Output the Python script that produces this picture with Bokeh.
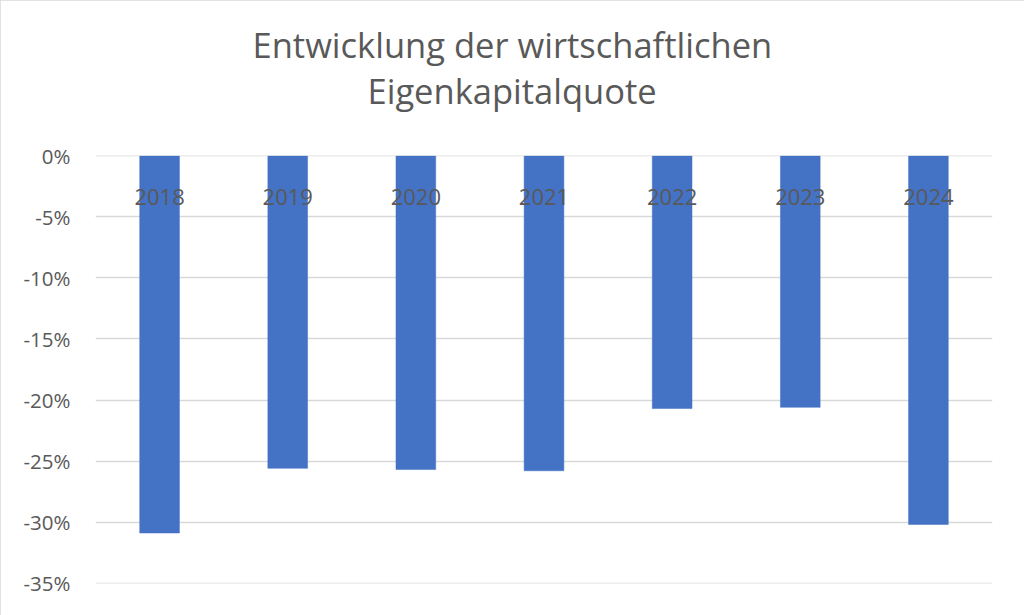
from bokeh.plotting import figure
from bokeh.models import ColumnDataSource, Range1d, NumeralTickFormatter, Title, FixedTicker
from bokeh.core.properties import value
from bokeh.embed import file_html
from bokeh.resources import INLINE

years = ["2018", "2019", "2020", "2021", "2022", "2023", "2024"]
quote = [-0.309, -0.256, -0.257, -0.258, -0.207, -0.206, -0.302]
y_ticks = [0.0, -0.05, -0.10, -0.15, -0.20, -0.25, -0.30, -0.35]
title_lines = ["Entwicklung der wirtschaftlichen", "Eigenkapitalquote"]

FONT = "Open Sans"
TXT = "#595959"

src = ColumnDataSource(dict(year=years, quote=quote, zero=[0.0] * len(years)))

p = figure(x_range=years, y_range=Range1d(-0.3504, 0.0004), width=1024, height=615,
           output_backend="svg", toolbar_location=None,
           min_border_left=95, min_border_right=32, min_border_top=155, min_border_bottom=32)
p.x_range.range_padding = 0
p.outline_line_color = None
p.background_fill_color = "white"
p.border_fill_color = "white"
p.styles = {"outline": "2px solid #d9d9d9", "outline-offset": "-2px"}

p.vbar(x="year", top="zero", bottom="quote", width=0.31, source=src,
       fill_color="#4472C4", line_color="#4472C4", line_width=0.5)

p.text(x="year", y="zero", text="year", source=src, y_offset=41,
       text_align="center", text_baseline="alphabetic",
       text_font=value(FONT), text_font_size="22px", text_color=TXT)

p.xaxis.visible = False
p.xgrid.grid_line_color = None
p.ygrid.grid_line_color = "#d9d9d9"
p.ygrid.grid_line_width = 1.5

ya = p.yaxis[0]
ya.ticker = FixedTicker(ticks=y_ticks)
ya.formatter = NumeralTickFormatter(format="0%")
ya.axis_line_color = None
ya.major_tick_line_color = None
ya.minor_tick_line_color = None
ya.major_tick_out = 0
ya.major_tick_in = 0
ya.major_label_standoff = 25
ya.major_label_text_font = FONT
ya.major_label_text_font_size = "20.5px"
ya.major_label_text_color = TXT

# second line first (closest to the frame), then the first line above it
p.add_layout(Title(text=title_lines[1], align="left", offset=272, standoff=84,
                   text_font=FONT, text_font_size="34.5px", text_font_style="normal",
                   text_color=TXT), "above")
p.add_layout(Title(text=title_lines[0], align="left", offset=157, standoff=-91,
                   text_font=FONT, text_font_size="34.5px", text_font_style="normal",
                   text_color=TXT), "above")

open("out.html", "w").write(file_html(p, INLINE))
